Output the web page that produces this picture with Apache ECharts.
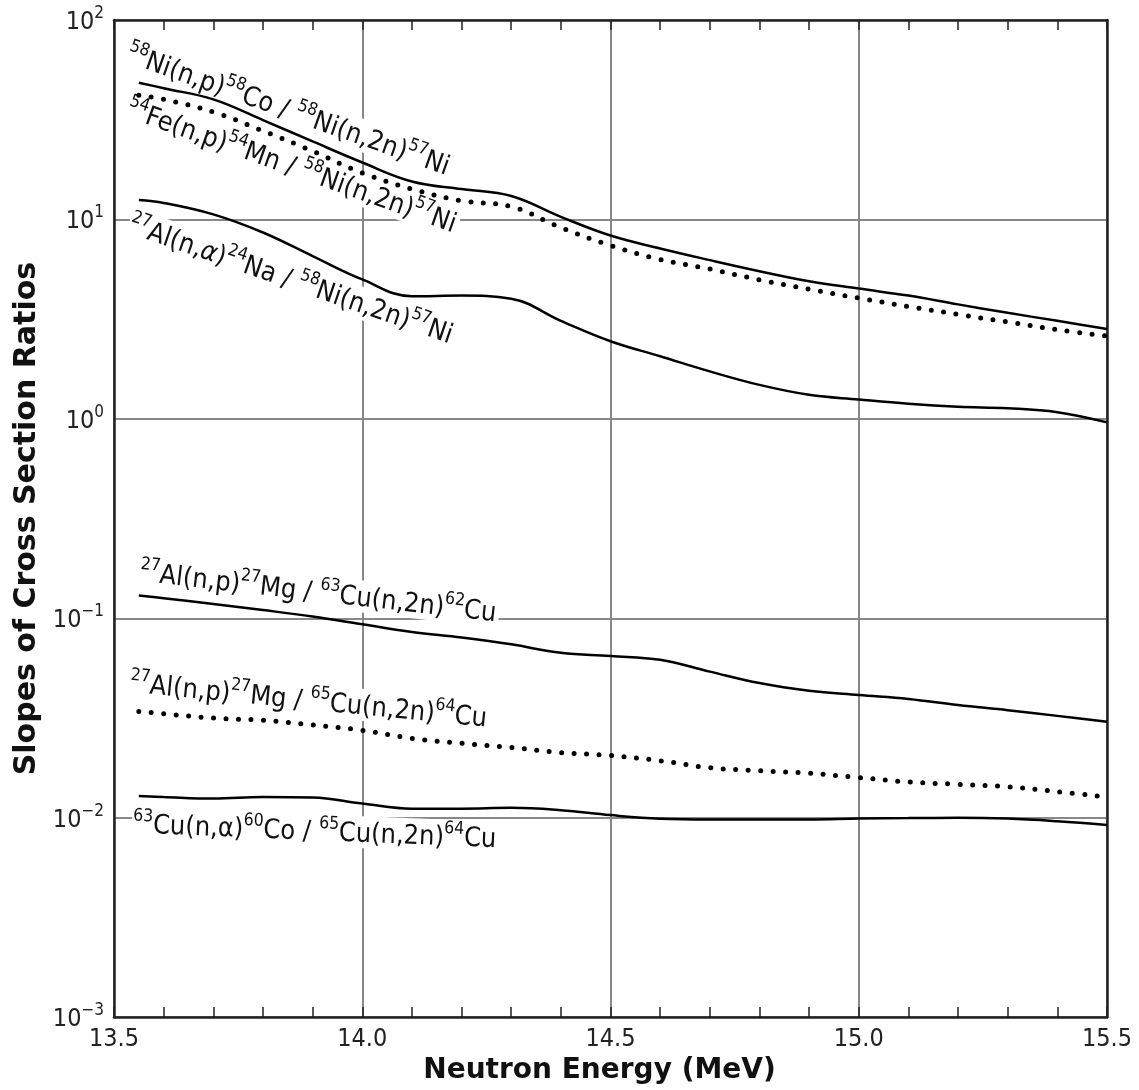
<!DOCTYPE html>
<html>
<head>
<meta charset="utf-8">
<script src="https://cdn.jsdelivr.net/npm/echarts@6/dist/echarts.min.js"></script>
<style>
html,body{margin:0;padding:0;background:#fff;}
#chart{width:1139px;height:1090px;}
</style>
</head>
<body>
<div id="chart"></div>
<script>
// ---------- data ----------
const energies = [13.55, 13.6, 13.7, 13.8, 13.9, 14.0, 14.1, 14.2, 14.3, 14.4, 14.5,
                  14.6, 14.7, 14.8, 14.9, 15.0, 15.1, 15.2, 15.3, 15.4, 15.5];

const niNpOverNiN2n = [48.5, 45.5, 40.0, 31.5, 24.6, 19.3, 15.5, 14.2, 13.1, 10.3, 8.3,
                       7.15, 6.25, 5.5, 4.9, 4.5, 4.15, 3.75, 3.4, 3.1, 2.82];
const feNpOverNiN2n = [42.0, 40.0, 34.6, 27.8, 22.0, 17.1, 14.2, 12.4, 11.6, 9.1, 7.4,
                       6.3, 5.64, 4.98, 4.47, 4.03, 3.66, 3.34, 3.06, 2.8, 2.6];
const alNaOverNiN2n = [12.5, 12.1, 10.6, 8.6, 6.55, 5.0, 4.12, 4.15, 4.0, 3.1, 2.45,
                       2.06, 1.73, 1.48, 1.32, 1.25, 1.19, 1.15, 1.13, 1.08, 0.96];
const alNpOverCu63 = [0.130, 0.126, 0.118, 0.110, 0.102, 0.0933, 0.0853, 0.080, 0.074, 0.0671, 0.0647,
                      0.0619, 0.054, 0.0473, 0.0433, 0.0412, 0.0394, 0.0367, 0.0346, 0.0324, 0.0303];
const alNpOverCu65 = [0.0341, 0.0332, 0.0316, 0.0308, 0.0292, 0.0274, 0.0250, 0.0236, 0.0225, 0.0212, 0.0205,
                      0.0193, 0.0178, 0.0172, 0.0167, 0.0159, 0.0151, 0.0147, 0.0143, 0.0135, 0.0127];
const cuNaOverCu65 = [0.01285, 0.0127, 0.01247, 0.0127, 0.01262, 0.01177, 0.0111, 0.0111, 0.0112, 0.0109, 0.0103,
                      0.00989, 0.0098, 0.0098, 0.0098, 0.0099, 0.00995, 0.0100, 0.0099, 0.0096, 0.0092];

const xTickLabels = ['13.5', '14.0', '14.5', '15.0', '15.5'];
const yExponents = ['2', '1', '0', '\u22121', '\u22122', '\u22123'];

// label texts: arrays of [superscript, main, style] pieces
const labelTexts = [
  [['58', 'Ni(n,p)'], ['58', 'Co / '], ['58', 'Ni(n,2n)'], ['57', 'Ni']],
  [['54', 'Fe(n,p)'], ['54', 'Mn / '], ['58', 'Ni(n,2n)'], ['57', 'Ni']],
  [['27', 'Al(n,'], ['', '\u03b1', 'i'], ['', ')'], ['24', 'Na / '], ['58', 'Ni(n,2n)'], ['57', 'Ni']],
  [['27', 'Al(n,p)'], ['27', 'Mg / '], ['63', 'Cu(n,2n)'], ['62', 'Cu']],
  [['27', 'Al(n,p)'], ['27', 'Mg / '], ['65', 'Cu(n,2n)'], ['64', 'Cu']],
  [['63', 'Cu(n,\u03b1)'], ['60', 'Co / '], ['65', 'Cu(n,2n)'], ['64', 'Cu']]
];

// ---------- layout / style ----------
const FONT = '"DejaVu Sans Condensed", "Liberation Sans Narrow", "DejaVu Sans", sans-serif';
const FONT_BOLD = '"DejaVu Sans", sans-serif';
const labelPlaces = [ // x, y (pixels, left-middle of text), angle deg (clockwise)
  [127, 52, 19.5],
  [127, 107, 19.5],
  [129, 223, 19],
  [139, 571, 6.5],
  [129, 682, 5.6],
  [132, 823, 2.3]
];

function buildRich(parts) {
  let s = '';
  parts.forEach(p => {
    if (p[0]) s += '{s|' + p[0] + '}';
    s += '{' + (p[2] || 'n') + '|' + p[1] + '}';
  });
  return s;
}

const chart = echarts.init(document.getElementById('chart'), null, {renderer: 'canvas'});

const lineSolid = {color: '#000', width: 2.5};
const lineDot = {color: '#000', width: 5, type: [0, 12.5], cap: 'round'};

function series(data, style) {
  return {
    type: 'line',
    data: energies.map((e, i) => [e, data[i]]),
    showSymbol: false,
    smooth: 0.4,
    lineStyle: style,
    z: 3,
    silent: true
  };
}

const richLabel = {
  n: {fontSize: 27, fontFamily: FONT, lineHeight: 32, verticalAlign: 'bottom', fill: '#111', color: '#111'},
  i: {fontSize: 27, fontFamily: FONT, lineHeight: 32, verticalAlign: 'bottom', fontStyle: 'italic', fill: '#111', color: '#111'},
  s: {fontSize: 17.5, fontFamily: FONT, lineHeight: 12, verticalAlign: 'top', fill: '#111', color: '#111'}
};

const graphics = labelTexts.map((parts, k) => {
  const pl = labelPlaces[k];
  return {
    type: 'text',
    x: pl[0], y: pl[1],
    rotation: -pl[2] * Math.PI / 180,
    z: 1,
    silent: true,
    style: {
      text: buildRich(parts),
      rich: richLabel,
      fill: '#111',
      font: '27px ' + FONT,
      align: 'left',
      verticalAlign: 'middle',
      backgroundColor: '#fff',
      padding: [0, 3, 0, 1]
    }
  };
});

const option = {
  backgroundColor: '#fff',
  animation: false,
  grid: {left: 114, right: 32, top: 20, bottom: 72, containLabel: false},
  xAxis: [{
    type: 'value', min: 13.5, max: 15.5, interval: 0.5, position: 'bottom',
    name: 'Neutron Energy (MeV)', nameLocation: 'middle', nameGap: 32,
    nameTextStyle: {fontFamily: FONT_BOLD, fontWeight: 'bold', fontSize: 28, color: '#111', padding: [0, 22, 0, 0]},
    axisLine: {onZero: false, lineStyle: {color: '#222', width: 2.5}},
    axisTick: {show: true, inside: true, length: 10, lineStyle: {color: '#222', width: 1.5}},
    minorTick: {show: true, splitNumber: 5, length: 10, lineStyle: {color: '#222', width: 1.5}},
    splitLine: {show: true, lineStyle: {color: '#888', width: 2}},
    axisLabel: {
      margin: 10, fontSize: 25, fontFamily: FONT, color: '#222',
      formatter: v => xTickLabels[Math.round((v - 13.5) / 0.5)] || ''
    },
    z: 0
  }, {
    type: 'value', min: 13.5, max: 15.5, interval: 0.5, position: 'top',
    axisLine: {onZero: false, lineStyle: {color: '#222', width: 2.5}},
    axisTick: {show: true, inside: true, length: 10, lineStyle: {color: '#222', width: 1.5}},
    minorTick: {show: true, splitNumber: 5, length: 10, lineStyle: {color: '#222', width: 1.5}},
    splitLine: {show: false},
    axisLabel: {show: false},
    z: 0
  }],
  yAxis: [{
    type: 'log', logBase: 10, min: 0.001, max: 100, splitNumber: 5, position: 'left',
    name: 'Slopes of Cross Section Ratios', nameLocation: 'middle', nameGap: 70,
    nameTextStyle: {fontFamily: FONT_BOLD, fontWeight: 'bold', fontSize: 30, color: '#111'},
    axisLine: {show: true, onZero: false, lineStyle: {color: '#222', width: 2.5}},
    axisTick: {show: false},
    splitLine: {show: true, lineStyle: {color: '#888', width: 2}},
    axisLabel: {
      margin: 10, color: '#222',
      formatter: v => {
        const e = Math.round(Math.log10(v));
        return '{b|10}{e|' + yExponents[2 - e] + '}';
      },
      rich: {
        b: {fontSize: 25, fontFamily: FONT, color: '#222', lineHeight: 30, verticalAlign: 'bottom'},
        e: {fontSize: 17, fontFamily: FONT, color: '#222', lineHeight: 12, verticalAlign: 'top'}
      }
    },
    z: 0
  }, {
    type: 'log', logBase: 10, min: 0.001, max: 100, position: 'right',
    axisLine: {show: true, onZero: false, lineStyle: {color: '#222', width: 2.5}},
    axisTick: {show: false}, axisLabel: {show: false}, splitLine: {show: false},
    z: 0
  }],
  series: [
    series(niNpOverNiN2n, lineSolid),
    series(feNpOverNiN2n, lineDot),
    series(alNaOverNiN2n, lineSolid),
    series(alNpOverCu63, lineSolid),
    series(alNpOverCu65, lineDot),
    series(cuNaOverCu65, lineSolid)
  ],
  graphic: graphics
};

chart.setOption(option);
</script>
</body>
</html>
